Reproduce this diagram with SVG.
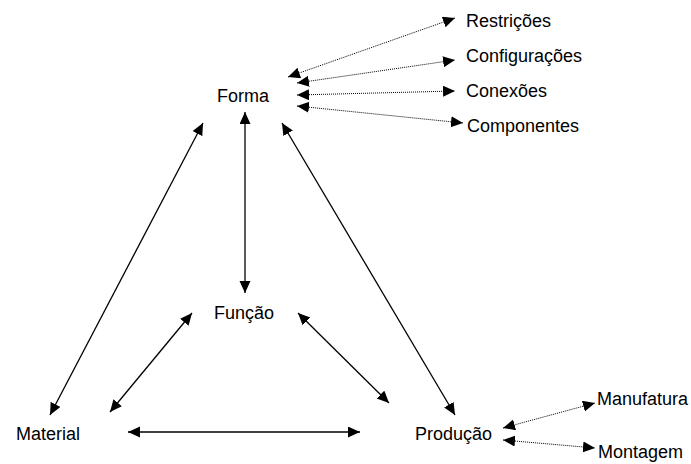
<svg xmlns="http://www.w3.org/2000/svg" width="691" height="464" viewBox="0 0 691 464">
<style>
text{font-family:"Liberation Sans",Arial,sans-serif;font-size:18px;fill:#000}
.s{stroke:#000;stroke-width:1.3;fill:none;marker-start:url(#a);marker-end:url(#a)}
.d{stroke:#000;stroke-width:1;stroke-dasharray:1 1;fill:none;marker-start:url(#a);marker-end:url(#a)}
</style>
<defs>
<marker id="a" markerUnits="userSpaceOnUse" markerWidth="13" markerHeight="12" refX="12" refY="5.5" orient="auto-start-reverse" viewBox="0 0 13 12">
<path d="M0,0 L12,5.5 L0,11 z" fill="#000"/>
</marker>
</defs>
<rect width="691" height="464" fill="#fff"/>
<g id="connectors">
<line class="s" x1="245" y1="112" x2="245" y2="293"/>
<line class="s" x1="203" y1="123" x2="50" y2="415"/>
<line class="s" x1="282" y1="123" x2="455" y2="415"/>
<line class="s" x1="192" y1="313" x2="110" y2="412"/>
<line class="s" x1="298" y1="313" x2="389" y2="403"/>
<line class="s" x1="128" y1="432" x2="360" y2="432"/>
<line class="d" x1="288" y1="77" x2="455" y2="18"/>
<line class="d" x1="297" y1="83" x2="455" y2="60"/>
<line class="d" x1="297" y1="95" x2="455" y2="91"/>
<line class="d" x1="297" y1="106" x2="463" y2="123"/>
<line class="d" x1="503" y1="428" x2="595" y2="403"/>
<line class="d" x1="503" y1="440" x2="595" y2="448"/>
</g>
<g id="forma"><text x="217" y="102">Forma</text></g>
<g id="funcao"><text x="214" y="319">Função</text></g>
<g id="material"><text x="16" y="440">Material</text></g>
<g id="producao"><text x="415" y="440">Produção</text></g>
<g id="restricoes"><text x="466" y="27">Restrições</text></g>
<g id="configuracoes"><text x="466" y="62">Configurações</text></g>
<g id="conexoes"><text x="466" y="97">Conexões</text></g>
<g id="componentes"><text x="467" y="132">Componentes</text></g>
<g id="manufatura"><text x="597" y="405">Manufatura</text></g>
<g id="montagem"><text x="598" y="458">Montagem</text></g>
</svg>
